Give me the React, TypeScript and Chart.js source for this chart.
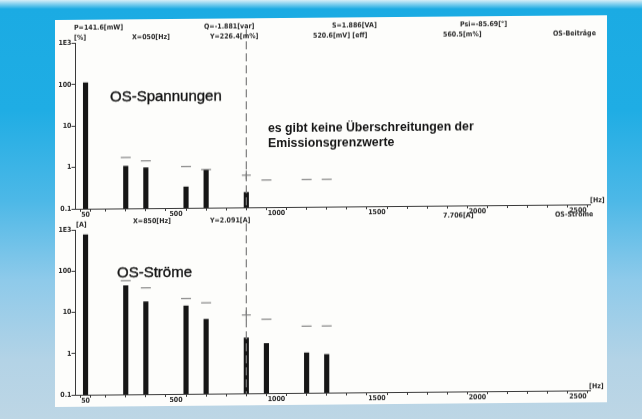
import React, { useEffect, useRef } from "react";
import { Chart, registerables } from "chart.js";

Chart.register(...registerables);

// ---- data ----
const harmonicsHz = [50, 250, 350, 550, 650, 850, 950, 1150, 1250];
const voltageLevels = [110, 1.05, 0.95, 0.32, 0.8, 0.23, null, null, null];
const voltageLimits = [null, 1.7, 1.4, 1.0, 0.83, 0.6, 0.45, 0.46, 0.46];
const currentLevels = [750, 43, 17.5, 13.5, 6.4, 2.2, 1.6, 0.93, 0.84];
const currentLimits = [null, 57, 38, 20.5, 16, 7.9, 6.2, 4.1, 4.1];
const yTickValues = [0.1, 1, 10, 100, 1000];
const yTickLabels = ["0.1", "1", "10", "100", "1E3"];
const xTickLabels = [50, 500, 1000, 1500, 2000, 2500];
const xMinorStep = 100;
const xMin = 0;
const xMax = 2560;
const cursorHz = 850;

const SMALL_FONT = '"DejaVu Sans Condensed", "Liberation Sans Narrow", "DejaVu Sans", sans-serif';
const BIG_FONT = '"Liberation Sans", Arial, Helvetica, sans-serif';
const AXIS_COLOR = "#3a3a3a";
const TEXT_COLOR = "#2a2a2a";

// panel (unskewed page coordinates)
const PANEL_X = 55;
const PANEL_Y = 20;
const PANEL_W = 552;
const PANEL_H = 387;

const cursorPlugin = {
  id: "cursor",
  afterDatasetsDraw(chart: any, _args: any, opts: any) {
    const x = chart.scales.x.getPixelForValue(opts.value);
    const ctx = chart.ctx;
    ctx.save();
    ctx.strokeStyle = "#7d7d7d";
    ctx.lineWidth = 1.2;
    ctx.setLineDash([8, 4]);
    ctx.beginPath();
    ctx.moveTo(x, opts.top);
    ctx.lineTo(x, chart.chartArea.bottom);
    ctx.stroke();
    ctx.restore();
  },
};

function makeConfig(levels: (number | null)[], limits: (number | null)[], padTop: number, xHeight: number, cursorTop: number): any {
  const bars = harmonicsHz
    .map((x, i) => ({ x, y: levels[i] }))
    .filter((p) => p.y !== null);
  const marks = harmonicsHz
    .map((x, i) => ({ x, y: limits[i] }))
    .filter((p) => p.y !== null);
  const font = { family: SMALL_FONT, size: 7, weight: "bold" as const };
  return {
    type: "bar",
    data: {
      datasets: [
        {
          type: "bar",
          data: bars,
          backgroundColor: "#161616",
          barThickness: 4.5,
          borderWidth: 0,
        },
        {
          type: "line",
          data: marks,
          showLine: false,
          pointStyle: (c: any) => (c.raw && c.raw.x === cursorHz ? "cross" : "line"),
          pointRadius: (c: any) => (c.raw && c.raw.x === cursorHz ? 4.5 : 5),
          pointBorderColor: "#8a8a8a",
          pointBorderWidth: 1.3,
          pointBackgroundColor: "transparent",
        },
      ],
    },
    options: {
      animation: false,
      responsive: false,
      devicePixelRatio: 1,
      layout: { padding: { top: padTop, right: 17, left: 0, bottom: 0 } },
      plugins: {
        legend: { display: false },
        tooltip: { enabled: false },
        cursor: { value: cursorHz, top: cursorTop },
      },
      scales: {
        x: {
          type: "linear",
          min: xMin,
          max: xMax,
          offset: false,
          afterBuildTicks: (s: any) => {
            const t = [xTickLabels[0]];
            for (let v = xMinorStep; v <= xTickLabels[xTickLabels.length - 1]; v += xMinorStep) t.push(v);
            s.ticks = t.map((value) => ({ value }));
          },
          afterFit: (s: any) => {
            s.height = xHeight;
          },
          ticks: {
            autoSkip: false,
            maxRotation: 0,
            padding: -1,
            font,
            color: TEXT_COLOR,
            callback: (v: any) => (xTickLabels.includes(Number(v)) ? String(v) : ""),
          },
          grid: { drawOnChartArea: false, tickLength: 3, color: AXIS_COLOR },
          border: { color: AXIS_COLOR },
        },
        y: {
          type: "logarithmic",
          min: yTickValues[0],
          max: yTickValues[yTickValues.length - 1],
          afterBuildTicks: (s: any) => {
            s.ticks = yTickValues.map((value) => ({ value }));
          },
          afterFit: (s: any) => {
            s.width = 20.5;
          },
          ticks: {
            autoSkip: false,
            padding: 0,
            font,
            color: TEXT_COLOR,
            callback: (v: any) => {
              const i = yTickValues.indexOf(Number(v));
              return i >= 0 ? yTickLabels[i] : "";
            },
          },
          grid: { drawOnChartArea: false, tickLength: 4, color: AXIS_COLOR },
          border: { color: AXIS_COLOR },
        },
      },
    },
    plugins: [cursorPlugin],
  };
}

type Lbl = { t: string; x: number; y: number; bold?: boolean; size?: number; stroke?: boolean };

const smallLabels: Lbl[] = [
  { t: "P=141.6[mW]", x: 74, y: 27.5 },
  { t: "Q=-1.881[var]", x: 204, y: 27.5 },
  { t: "S=1.886[VA]", x: 332, y: 27.5 },
  { t: "Psi=-85.69[°]", x: 460, y: 27.5 },
  { t: "[%]", x: 74, y: 38 },
  { t: "X=050[Hz]", x: 132, y: 38 },
  { t: "Y=226.4[m%]", x: 210, y: 38 },
  { t: "520.6[mV] [eff]", x: 313, y: 38 },
  { t: "560.5[m%]", x: 443, y: 38 },
  { t: "OS-Beiträge", x: 553, y: 38 },
  { t: "[Hz]", x: 590, y: 205 },
  { t: "[A]", x: 76, y: 225 },
  { t: "X=850[Hz]", x: 133, y: 222 },
  { t: "Y=2.091[A]", x: 210, y: 222 },
  { t: "7.706[A]", x: 443, y: 219 },
  { t: "OS-Ströme", x: 555, y: 219 },
  { t: "[Hz]", x: 589, y: 391 },
];

const bigLabels: Lbl[] = [
  { t: "OS-Spannungen", x: 110, y: 96.5, size: 15, stroke: true },
  { t: "es gibt keine Überschreitungen der", x: 268, y: 130, size: 12.3, bold: true },
  { t: "Emissionsgrenzwerte", x: 268, y: 145, size: 12.3, bold: true },
  { t: "OS-Ströme", x: 117, y: 272.5, size: 15, stroke: true },
];

export default function App() {
  const topRef = useRef<HTMLCanvasElement>(null);
  const botRef = useRef<HTMLCanvasElement>(null);

  useEffect(() => {
    const c1 = new Chart(topRef.current as HTMLCanvasElement, makeConfig(voltageLevels, voltageLimits, 23.5, 11, 11));
    const c2 = new Chart(botRef.current as HTMLCanvasElement, makeConfig(currentLevels, currentLimits, 10, 12, 5));
    return () => {
      c1.destroy();
      c2.destroy();
    };
  }, []);

  return (
    <div
      style={{
        position: "fixed",
        left: 0,
        top: 0,
        width: 642,
        height: 419,
        overflow: "hidden",
        background:
          "linear-gradient(to bottom, #d6eef8 0px, #1babe3 9px, #1fade4 110px, #4cb8e7 200px, #8ecaea 280px, #b3d3e6 360px, #bdd6e5 419px)",
      }}
    >
      <div
        style={{
          position: "absolute",
          left: PANEL_X,
          top: PANEL_Y,
          width: PANEL_W,
          height: PANEL_H,
          background: "#fdfdfb",
          transform: "skewY(-0.5deg)",
          transformOrigin: "0px 0px",
        }}
      >
        <canvas ref={topRef} width={552} height={200} style={{ position: "absolute", left: 0, top: 0, width: 552, height: 200 }} />
        <canvas ref={botRef} width={552} height={187} style={{ position: "absolute", left: 0, top: 200, width: 552, height: 187 }} />
        {smallLabels.map((l, i) => (
          <div
            key={"s" + i}
            style={{
              position: "absolute",
              left: l.x - PANEL_X,
              top: l.y - PANEL_Y - 5,
              lineHeight: "10px",
              fontSize: 7,
              fontWeight: "bold",
              fontFamily: SMALL_FONT,
              color: TEXT_COLOR,
              whiteSpace: "nowrap",
            }}
          >
            {l.t}
          </div>
        ))}
        {bigLabels.map((l, i) => (
          <div
            key={"b" + i}
            style={{
              position: "absolute",
              left: l.x - PANEL_X,
              top: l.y - PANEL_Y - (l.size || 12) * 0.6,
              lineHeight: `${Math.round((l.size || 12) * 1.2)}px`,
              fontSize: l.size,
              fontWeight: l.bold ? "bold" : "normal",
              fontFamily: BIG_FONT,
              color: "#161616",
              whiteSpace: "nowrap",
              WebkitTextStroke: l.stroke ? "0.35px #161616" : undefined,
            }}
          >
            {l.t}
          </div>
        ))}
      </div>
    </div>
  );
}
